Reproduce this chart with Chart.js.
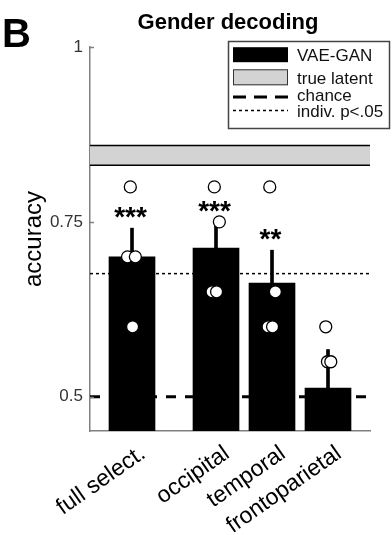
<!DOCTYPE html>
<html>
<head>
<meta charset="utf-8">
<title>Gender decoding</title>
<script src="https://cdn.jsdelivr.net/npm/chart.js@4.4.0/dist/chart.umd.min.js"></script>
<style>
    html, body { margin: 0; padding: 0; background: #fff; }
    canvas { display: block; }
</style>
</head>
<body>
<canvas id="chart" width="392" height="535"></canvas>
<script>
// Regions on the x axis
const regions = ['full select.', 'occipital', 'temporal', 'frontoparietal'];
// Where each region sits on the x axis (gap after "full select.")
const regionPos = [1, 2.5, 3.5, 4.5];
// Mean accuracy (VAE-GAN) and its standard error
const meanAcc = [0.7, 0.7125, 0.6625, 0.5125];
const semAcc = [0.041, 0.0375, 0.047, 0.055];
// Significance stars above each bar
const stars = ['***', '***', '**', ''];
// Individual subjects, one list per region
const subjAcc = [
    [0.8, 0.7, 0.7, 0.6],
    [0.8, 0.75, 0.65, 0.65],
    [0.8, 0.65, 0.6, 0.6],
    [0.6, 0.55, 0.55, 0.35]
];
// Horizontal jitter of the subject circles (x units)
const subjJitter = [
    [-0.03, -0.08, 0.06, 0.01],
    [-0.03, 0.06, -0.07, 0.01],
    [-0.04, 0.06, -0.07, 0.01],
    [-0.04, -0.01, 0.05, 0]
];
// True latent band (low, high), chance and individual p<.05 threshold
const trueLatent = [0.831, 0.859];
const chanceLevel = 0.5;
const indivThresh = 0.676;
// Axis ranges and ticks
const xRange = [0.25, 5.25];
const yRange = [0.451, 1];
const yTicks = [0.5, 0.75, 1];

const FONT = '"Liberation Sans", Arial, Helvetica, sans-serif';
const AXIS_GRAY = '#808080';

function hLine(y) {
    return [{ x: xRange[0], y: y }, { x: xRange[1], y: y }];
}

/**
 * Stars, legend, title and panel letter
 */
const decorPlugin = {
    id: 'decor',
    afterDatasetsDraw(chart) {
        const { ctx, scales: { x, y } } = chart;
        ctx.save();
        ctx.fillStyle = '#000';
        ctx.font = 'bold 28px ' + FONT;
        ctx.textAlign = 'center';
        ctx.textBaseline = 'alphabetic';
        stars.forEach((s, i) => {
            if (!s) return;
            const px = x.getPixelForValue(regionPos[i]) - 1.5;
            const py = y.getPixelForValue(meanAcc[i] + semAcc[i]) - 2;
            ctx.fillText(s, px, py);
        });

        // inward y ticks
        ctx.strokeStyle = AXIS_GRAY;
        ctx.lineWidth = 1.5;
        yTicks.forEach(v => {
            const py = Math.round(y.getPixelForValue(v)) + 0.5;
            ctx.beginPath();
            ctx.moveTo(chart.chartArea.left, py);
            ctx.lineTo(chart.chartArea.left + 4, py);
            ctx.stroke();
        });
        ctx.restore();
    },
    afterDraw(chart) {
        const { ctx, chartArea } = chart;
        ctx.save();

        // Panel letter
        ctx.fillStyle = '#000';
        ctx.font = 'bold 40px ' + FONT;
        ctx.textAlign = 'left';
        ctx.textBaseline = 'alphabetic';
        ctx.fillText('B', 2, 47);

        // Title
        ctx.font = 'bold 22px ' + FONT;
        ctx.textAlign = 'center';
        ctx.fillText('Gender decoding', (chartArea.left + chartArea.right) / 2 - 2, 29);

        // Legend box
        ctx.fillStyle = '#fff';
        ctx.fillRect(228.5, 41.5, 161, 87);
        ctx.strokeStyle = '#444';
        ctx.lineWidth = 1.5;
        ctx.strokeRect(228.5, 41.5, 161, 87);

        const symL = 233, symR = 288, textX = 297;
        const rows = [54.7, 77.3, 95, 110.5];

        ctx.fillStyle = '#000';
        ctx.fillRect(symL, rows[0] - 7.5, symR - symL, 15);

        ctx.fillStyle = '#d3d3d3';
        ctx.fillRect(symL, rows[1] - 8, symR - symL, 16);
        ctx.strokeStyle = '#333';
        ctx.lineWidth = 1;
        ctx.strokeRect(symL + 0.5, rows[1] - 7.5, symR - symL - 1, 15);

        ctx.strokeStyle = '#000';
        ctx.lineWidth = 3;
        ctx.setLineDash([13, 8]);
        ctx.beginPath();
        ctx.moveTo(symL, rows[2] + 2);
        ctx.lineTo(symR, rows[2] + 2);
        ctx.stroke();

        ctx.lineWidth = 1.5;
        ctx.setLineDash([3, 3]);
        ctx.beginPath();
        ctx.moveTo(symL, rows[3]);
        ctx.lineTo(symR, rows[3]);
        ctx.stroke();
        ctx.setLineDash([]);

        ctx.fillStyle = '#111';
        ctx.font = '17px ' + FONT;
        ctx.textAlign = 'left';
        ctx.fillText('VAE-GAN', textX, rows[0] + 6.3);
        ctx.fillText('true latent', textX, rows[1] + 6.3);
        ctx.fillText('chance', textX, rows[2] + 6.3);
        ctx.fillText('indiv. p<.05', textX, rows[3] + 6.3);

        ctx.restore();
    }
};

const subjPoints = [];
subjAcc.forEach((vals, i) => {
    vals.forEach((v, j) => {
        subjPoints.push({ x: regionPos[i] + subjJitter[i][j], y: v });
    });
});

const ctx = document.getElementById('chart').getContext('2d');

new Chart(ctx, {
    type: 'bar',
    data: {
        datasets: [
            {
                type: 'scatter',
                label: 'subjects',
                data: subjPoints,
                pointRadius: 6,
                pointBackgroundColor: '#fff',
                pointBorderColor: '#000',
                pointBorderWidth: 1.3,
                order: 0
            },
            {
                type: 'bar',
                label: 'sem',
                data: regionPos.map((p, i) => ({ x: p, y: [meanAcc[i], meanAcc[i] + semAcc[i]] })),
                backgroundColor: '#000',
                barThickness: 3,
                grouped: false,
                order: 1
            },
            {
                type: 'bar',
                label: 'VAE-GAN',
                data: regionPos.map((p, i) => ({ x: p, y: meanAcc[i] })),
                backgroundColor: '#000',
                barThickness: 46,
                grouped: false,
                order: 2
            },
            {
                type: 'line',
                label: 'chance',
                data: hLine(chanceLevel),
                borderColor: '#000',
                borderWidth: 3,
                borderDash: [10, 9],
                pointRadius: 0,
                fill: false,
                order: 3
            },
            {
                type: 'line',
                label: 'indiv. p<.05',
                data: hLine(indivThresh),
                borderColor: '#000',
                borderWidth: 1.5,
                borderDash: [3, 3],
                pointRadius: 0,
                fill: false,
                order: 3
            },
            {
                type: 'line',
                label: 'true latent low',
                data: hLine(trueLatent[0]),
                borderColor: '#000',
                borderWidth: 1.5,
                pointRadius: 0,
                fill: false,
                order: 4
            },
            {
                type: 'line',
                label: 'true latent',
                data: hLine(trueLatent[1]),
                borderColor: '#000',
                borderWidth: 1.5,
                backgroundColor: '#d3d3d3',
                pointRadius: 0,
                fill: '-1',
                order: 4
            }
        ]
    },
    options: {
        responsive: false,
        animation: false,
        devicePixelRatio: 1,
        layout: {
            padding: { top: 47, right: 22, left: 0, bottom: 0 }
        },
        plugins: {
            legend: { display: false },
            tooltip: { enabled: false },
            title: { display: false }
        },
        scales: {
            x: {
                type: 'linear',
                min: xRange[0],
                max: xRange[1],
                offset: false,
                afterBuildTicks: scale => {
                    scale.ticks = regionPos.map(v => ({ value: v }));
                },
                afterFit: scale => {
                    scale.height = 104;
                },
                grid: { display: false, drawTicks: false },
                border: { display: true, color: AXIS_GRAY, width: 1.5 },
                ticks: {
                    autoSkip: false,
                    minRotation: 35,
                    maxRotation: 35,
                    padding: 9,
                    labelOffset: 11,
                    color: '#000',
                    font: { family: FONT, size: 23 },
                    callback: (value, index) => regions[index]
                }
            },
            y: {
                type: 'linear',
                min: yRange[0],
                max: yRange[1],
                afterBuildTicks: scale => {
                    scale.ticks = yTicks.map(v => ({ value: v }));
                },
                afterFit: scale => {
                    scale.width = 90;
                },
                grid: { display: false, drawTicks: false },
                border: { display: true, color: AXIS_GRAY, width: 1.5 },
                ticks: {
                    padding: 7,
                    color: '#333',
                    font: { family: FONT, size: 17 },
                    callback: value => String(value)
                },
                title: {
                    display: true,
                    text: 'accuracy',
                    color: '#000',
                    font: { family: FONT, size: 24 },
                    padding: { top: 20, bottom: 0 }
                }
            }
        }
    },
    plugins: [decorPlugin]
});
</script>
</body>
</html>
